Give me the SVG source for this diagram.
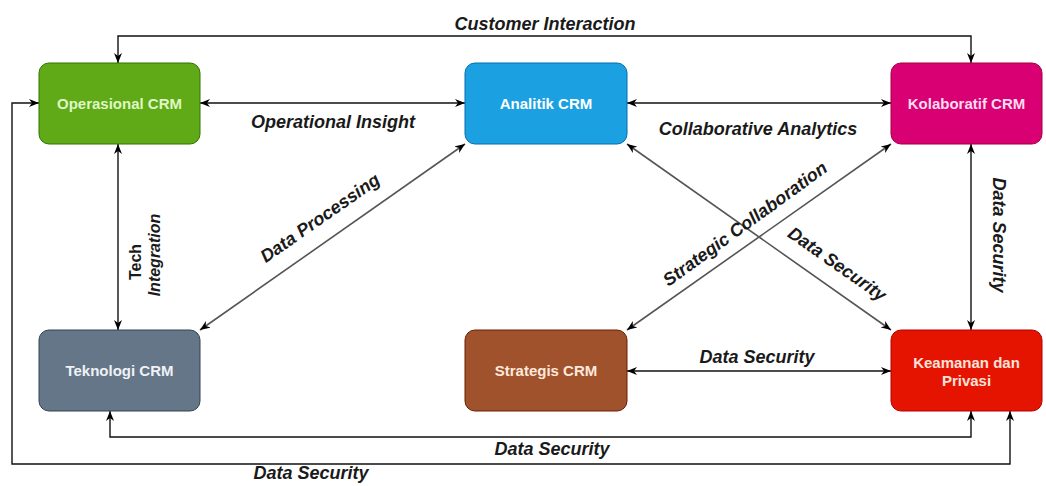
<svg xmlns="http://www.w3.org/2000/svg" width="1046" height="486" viewBox="0 0 1046 486">
  <style>
    .node-label { font-family: "Liberation Sans", Arial, sans-serif; font-size: 15px; font-weight: bold; text-anchor: middle; dominant-baseline: central; }
    .edge-label { font-family: "Liberation Sans", Arial, sans-serif; font-size: 18px; font-weight: bold; font-style: italic; fill: #1a1a1a; text-anchor: middle; }
    .edge { fill: none; stroke: #111; stroke-width: 1.4; marker-start: url(#arrow); marker-end: url(#arrow); }
    .edge.diag { stroke: #555; stroke-width: 1.6; }
  </style>
  <defs>
    <marker id="arrow" viewBox="0 0 10 8" refX="10" refY="4" markerWidth="10" markerHeight="8" markerUnits="userSpaceOnUse" orient="auto-start-reverse">
      <path d="M0,0 L10,4 L0,8 L3,4 z" fill="#000"/>
    </marker>
  </defs>

  <rect width="1046" height="486" fill="#ffffff"/>

  <!-- connectors -->
  <g id="connectors">
    <path class="edge" d="M118,63 V36 H971 V63"/>
    <path class="edge" d="M200,103 H465"/>
    <path class="edge" d="M627,103 H891"/>
    <path class="edge" d="M118,144 V330"/>
    <path class="edge diag" d="M200,330 L465,144"/>
    <path class="edge diag" d="M627,144 L891,330"/>
    <path class="edge diag" d="M627,330 L891,144"/>
    <path class="edge" d="M971,144 V330"/>
    <path class="edge" d="M627,371 H891"/>
    <path class="edge" d="M110,411 V437 H971 V411"/>
    <path class="edge" d="M39,103 H12 V464 H1010 V411"/>

    <text class="edge-label" x="545" y="30">Customer Interaction</text>
    <text class="edge-label" x="333" y="128">Operational Insight</text>
    <text class="edge-label" x="758" y="135">Collaborative Analytics</text>
    <text class="edge-label" transform="translate(135,262) rotate(-90)" style="font-size:16px;font-style:normal" dominant-baseline="central">Tech</text>
    <text class="edge-label" transform="translate(154,255) rotate(-90)" style="font-size:16px" dominant-baseline="central">Integration</text>
    <text class="edge-label" transform="translate(320,218) rotate(-35)" dominant-baseline="central">Data Processing</text>
    <text class="edge-label" transform="translate(745,224) rotate(-36)" dominant-baseline="central">Strategic Collaboration</text>
    <text class="edge-label" transform="translate(837,264) rotate(35)" dominant-baseline="central">Data Security</text>
    <text class="edge-label" transform="translate(999,235) rotate(90)" dominant-baseline="central">Data Security</text>
    <text class="edge-label" x="757" y="363">Data Security</text>
    <text class="edge-label" x="552" y="455">Data Security</text>
    <text class="edge-label" x="311" y="479">Data Security</text>
  </g>

  <!-- nodes -->
  <g id="operasional">
    <rect x="39" y="63" width="161" height="81" rx="10" fill="#60a917" stroke="#2d7600"/>
    <text class="node-label" x="119.5" y="103.5" fill="#dff7c4">Operasional CRM</text>
  </g>
  <g id="analitik">
    <rect x="465" y="63" width="162" height="81" rx="10" fill="#1ba1e2" stroke="#006eaf"/>
    <text class="node-label" x="546" y="103.5" fill="#ffffff">Analitik CRM</text>
  </g>
  <g id="kolaboratif">
    <rect x="891" y="63" width="151" height="81" rx="10" fill="#d80073" stroke="#a50040"/>
    <text class="node-label" x="966.5" y="103.5" fill="#ffdcef">Kolaboratif CRM</text>
  </g>
  <g id="teknologi">
    <rect x="39" y="330" width="161" height="81" rx="10" fill="#647687" stroke="#314354"/>
    <text class="node-label" x="119.5" y="370.5" fill="#eef2f6">Teknologi CRM</text>
  </g>
  <g id="strategis">
    <rect x="465" y="330" width="162" height="81" rx="10" fill="#a0522d" stroke="#6d1f00"/>
    <text class="node-label" x="546" y="370.5" fill="#ffe9dc">Strategis CRM</text>
  </g>
  <g id="keamanan">
    <rect x="891" y="330" width="151" height="81" rx="10" fill="#e51400" stroke="#b20000"/>
    <text class="node-label" x="966.5" y="362" fill="#ffe2da">Keamanan dan</text>
    <text class="node-label" x="966.5" y="380" fill="#ffe2da">Privasi</text>
  </g>
</svg>
